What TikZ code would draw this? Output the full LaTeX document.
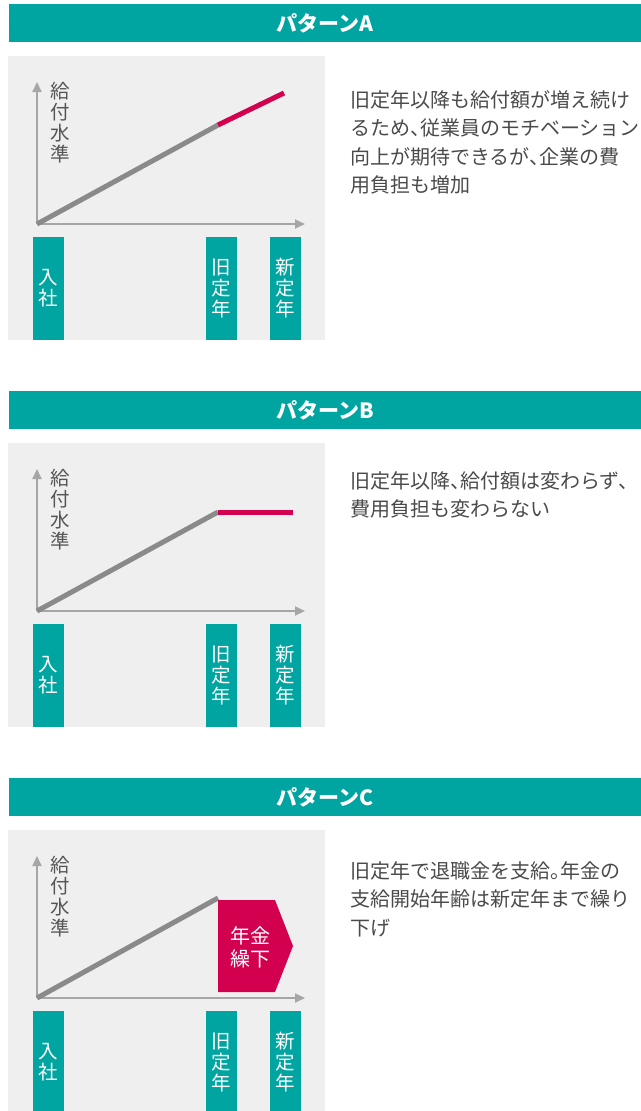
\documentclass[tikz,border=0pt]{standalone}
\usepackage{fontspec}
\setmainfont{Noto Sans CJK JP}
\usetikzlibrary{arrows.meta}
\definecolor{tealc}{HTML}{00A5A1}
\definecolor{redc}{HTML}{D3004F}
\definecolor{panelc}{HTML}{EFEFEF}
\definecolor{linec}{HTML}{8A8A8A}
\definecolor{axisc}{HTML}{A6A6A6}
\definecolor{textc}{HTML}{4A4A4A}
\definecolor{labc}{HTML}{555555}
\newcommand{\hc}{、\kern-0.5em}
\newcommand{\hp}{。\kern-0.5em}
\tikzset{
  header/.style={fill=tealc, text=white, minimum width=632pt, minimum height=38pt, inner sep=0pt,
    font=\fontsize{21}{23}\selectfont\bfseries},
  panelbox/.style={fill=panelc, minimum width=317pt, minimum height=284pt, inner sep=0pt},
  axis/.style={draw=axisc, line width=1.8pt, -{Triangle[width=9pt,length=10pt]}},
  ylab/.style={text=labc, align=center, inner sep=0pt, font=\fontsize{19.5}{21}\selectfont},
  barbox/.style={fill=tealc, text=white, minimum width=31pt, minimum height=103pt, inner sep=0pt,
    align=center, font=\fontsize{19.5}{21}\selectfont},
  grayline/.style={draw=linec, line width=5pt},
  redline/.style={draw=redc, line width=5pt},
  desc/.style={text=textc, align=left, anchor=base west, inner sep=0pt,
    font=\fontsize{20}{28.5}\selectfont},
  pentext/.style={text=white, align=center, inner sep=0pt, font=\fontsize{20}{23}\selectfont},
}
\newcommand{\drawpanel}[3]{%
 \begin{scope}[shift={(0,#2)}]
  \node[header] (#1head) at (325,23) {パターン#3};
  \node[panelbox] (#1panel) at (166.5,198) {};
  \coordinate (#1o) at (37,224);
  \coordinate (#1yt) at (37,82);
  \coordinate (#1xt) at (305,224);
  \draw[axis] (#1o) -- (#1yt);
  \draw[axis] (#1o) -- (#1xt);
  \node[ylab] (#1ylab) at (60,122.5) {給\\付\\水\\準};
  \node[barbox] (#1b1) at (48.5,288.5) {入\\社};
  \node[barbox] (#1b2) at (221.5,288.5) {旧\\定\\年};
  \node[barbox] (#1b3) at (285.5,288.5) {新\\定\\年};
 \end{scope}}
\begin{document}
\begin{tikzpicture}[x=1pt,y=-1pt]
\useasboundingbox (0,0) rectangle (640,1111);
% ---------- A ----------
\drawpanel{a}{0}{A}
\coordinate (ar) at (218,125);
\coordinate (ae) at (284,93);
\draw[grayline] (ao) -- (ar);
\draw[redline] (ar) -- (ae);
\node[desc] (adesc) at (350,192.5) {旧定年以降も給付額が増え続け\\るため\hc 従業員のモチベーション\\向上が期待できるが\hc 企業の費\\用負担も増加};
% ---------- B ----------
\drawpanel{b}{387}{B}
\coordinate (br) at (218,512);
\coordinate (be) at (293,512);
\draw[grayline] (bo) -- (br);
\draw[redline] (br) -- (be);
\node[desc] (bdesc) at (350,516.5) {旧定年以降\hc 給付額は変わらず\hc\\費用負担も変わらない};
% ---------- C ----------
\drawpanel{c}{774}{C}
\coordinate (cr) at (218,898);
\draw[grayline] (co) -- (cr);
\fill[redc] (218,900) -- (275,900) -- (293,946) -- (275,992) -- (218,992) -- cycle;
\node[pentext] (cpen) at (250,947.5) {年金\\繰下};
\node[desc] (cdesc) at (350,935) {旧定年で退職金を支給\hp 年金の\\支給開始年齢は新定年まで繰り\\下げ};
\end{tikzpicture}
\end{document}
